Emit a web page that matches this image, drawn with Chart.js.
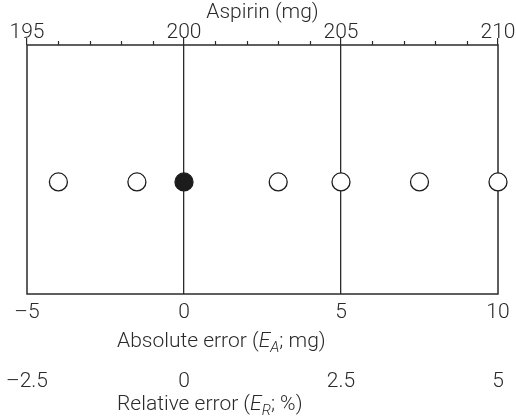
<!DOCTYPE html>
<html>
<head>
<meta charset="utf-8">
<script src="https://cdn.jsdelivr.net/npm/chart.js@4/dist/chart.umd.min.js"></script>
<style>
  body { margin: 0; background: #fff; }
</style>
</head>
<body>
<canvas id="errChart" width="516" height="417"></canvas>
<script>
// Absolute error of each aspirin result (mg), true value = 200 mg
const absError = [-4, -1.5, 0, 3, 5, 7.5, 10];
const fillColors = ['#fff', '#fff', '#1c1c1c', '#fff', '#fff', '#fff', '#fff'];
const rowLevel = 0.45;

// axis ranges
const absRange = [-5, 10];
const mgRange = [195, 210];
const relRange = [-2.5, 5];
const guideLines = [0, 5];

const ink = '#2a2a2a';
const font = { family: 'Roboto, "Liberation Sans", sans-serif', size: 21, weight: '300' };
const dash = v => (v < 0 ? '\u2013' + Math.abs(v) : String(v));

// draws a label made of plain / italic / subscript pieces
function richText(ctx, parts, x, y) {
  ctx.textBaseline = 'middle';
  ctx.textAlign = 'left';
  parts.forEach(([txt, kind]) => {
    const size = kind === 'sub' ? 15 : font.size;
    const style = kind === 'plain' ? '' : 'italic ';
    ctx.font = `${style}${font.weight} ${size}px ${font.family}`;
    ctx.fillText(txt, x, kind === 'sub' ? y + 6 : y);
    x += ctx.measureText(txt).width;
  });
}

const frame = {
  id: 'frame',
  beforeDatasetsDraw(chart) {
    const { ctx, chartArea: a, scales } = chart;
    ctx.save();
    ctx.strokeStyle = ink;
    ctx.lineWidth = 1.5;
    ctx.strokeRect(a.left, a.top, a.right - a.left, a.bottom - a.top);
    // short ticks between the labelled mg values
    const top = scales.x2;
    ctx.lineWidth = 1.2;
    top.ticks.forEach(t => {
      if (t.value % 5 === 0) return;
      const px = Math.round(top.getPixelForValue(t.value)) + 0.5;
      ctx.beginPath();
      ctx.moveTo(px, a.top);
      ctx.lineTo(px, a.top - 4);
      ctx.stroke();
    });
    ctx.restore();
  },
  afterDraw(chart) {
    const { ctx, scales } = chart;
    ctx.save();
    ctx.fillStyle = ink;
    richText(ctx, [['Absolute error (', 'plain'], ['E', 'it'], ['A', 'sub'], ['; mg)', 'plain']], 117, scales.x.top + 48);
    richText(ctx, [['Relative error (', 'plain'], ['E', 'it'], ['R', 'sub'], ['; %)', 'plain']], 117, scales.xRel.top + 48);
    ctx.restore();
  }
};

new Chart(document.getElementById('errChart'), {
  type: 'scatter',
  data: {
    datasets: [{
      data: absError.map(e => ({ x: e, y: rowLevel })),
      pointRadius: 9,
      pointHoverRadius: 9,
      pointBorderWidth: 1.3,
      pointBorderColor: '#1c1c1c',
      pointBackgroundColor: fillColors,
      clip: false
    }]
  },
  options: {
    responsive: false,
    animation: false,
    events: [],
    layout: { padding: { left: 27, right: 18, top: 0, bottom: 0 } },
    plugins: { legend: { display: false }, tooltip: { enabled: false } },
    scales: {
      x: {
        type: 'linear',
        position: 'bottom',
        min: absRange[0],
        max: absRange[1],
        afterFit: s => { s.height = 63; },
        border: { display: false },
        grid: {
          drawTicks: false,
          lineWidth: 1.3,
          color: c => (guideLines.includes(c.tick.value) ? ink : 'rgba(0,0,0,0)')
        },
        ticks: { stepSize: 5, padding: 6, color: ink, font, maxRotation: 0, callback: dash }
      },
      xRel: {
        type: 'linear',
        position: 'bottom',
        min: relRange[0],
        max: relRange[1],
        afterFit: s => { s.height = 60; },
        border: { display: false },
        grid: { display: false },
        ticks: { stepSize: 2.5, padding: 4, color: ink, font, maxRotation: 0, callback: dash }
      },
      x2: {
        type: 'linear',
        position: 'top',
        min: mgRange[0],
        max: mgRange[1],
        afterFit: s => { s.height = 45; },
        border: { display: false },
        grid: {
          drawOnChartArea: false,
          drawTicks: true,
          tickLength: 7,
          lineWidth: 1.2,
          tickColor: c => (c.tick.value % 5 === 0 ? ink : 'rgba(0,0,0,0)')
        },
        title: { display: true, text: 'Aspirin (mg)', color: ink, font, padding: { top: 0, bottom: 0 } },
        ticks: {
          stepSize: 1,
          autoSkip: false,
          maxRotation: 0,
          padding: -7,
          color: ink,
          font,
          callback: v => (v % 5 === 0 ? String(v) : '')
        }
      },
      y: { display: false, min: 0, max: 1 }
    }
  },
  plugins: [frame]
});
</script>
</body>
</html>
